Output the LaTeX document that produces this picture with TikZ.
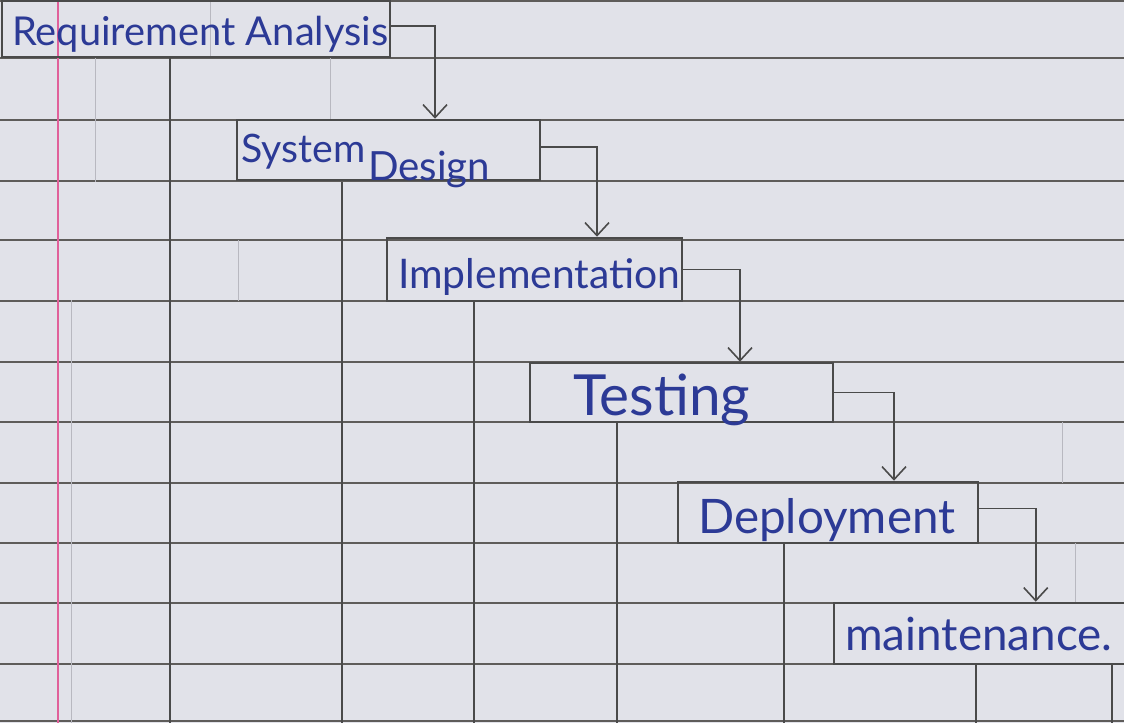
\documentclass[tikz,border=0pt]{standalone}
\usepackage{fontspec}
\setmainfont{Lato}
\usetikzlibrary{arrows.meta}
\definecolor{paper}{HTML}{E1E2E9}
\definecolor{rule}{HTML}{5E5C5A}
\definecolor{pencil}{HTML}{4A4A4A}
\definecolor{faint}{HTML}{B8B8C0}
\definecolor{ink}{HTML}{2C3A96}
\definecolor{margin}{HTML}{E0609A}
\tikzset{
  ruled/.style={rule, line width=2.1pt},
  vline/.style={pencil, line width=1.8pt},
  faintline/.style={faint, line width=1pt},
  stagebox/.style={draw=pencil, line width=2.5pt, inner sep=0pt, rectangle},
  hand/.style={ink, inner sep=0pt, anchor=base west},
  flow/.style={pencil, line width=1.8pt, -{Straight Barb[length=13pt,width=24pt,line width=1.6pt]}}
}
\begin{document}
\begin{tikzpicture}[x=1pt,y=-1pt]
\useasboundingbox (0,0) rectangle (1124,723);
\clip (0,0) rectangle (1124,723);
\fill[paper] (0,0) rectangle (1124,723);
% ruled paper lines
\foreach \y in {1,58,120,181,240,301,362,422,483,543,603,664,721}
  \draw[ruled] (0,\y) -- (1124,\y);
% faint pencil verticals
\draw[faintline] (95,58) -- (95,182);
\draw[faintline] (330,58) -- (330,120);
\draw[faintline] (210,0) -- (210,58);
\draw[faintline] (71,300) -- (71,723);
\draw[faintline] (238,240) -- (238,301);
\draw[faintline] (1062,422) -- (1062,483);
\draw[faintline] (1075,543) -- (1075,603);
% margin
\draw[margin, line width=1.2pt] (58,0) -- (58,723);
% pencil columns
\draw[vline] (170,58) -- (170,723);
\draw[vline] (342,182) -- (342,723);
\draw[vline] (474,301) -- (474,723);
\draw[vline] (617,422) -- (617,723);
\draw[vline] (784,543) -- (784,723);
\draw[vline] (976,664) -- (976,723);
\draw[vline] (1112,664) -- (1112,723);
% stage boxes
\node[stagebox, minimum width=388pt, minimum height=56pt] (b1) at (196,29) {};
\node[stagebox, minimum width=303pt, minimum height=60pt] (b2) at (388.5,150) {};
\node[stagebox, minimum width=295pt, minimum height=63pt] (b3) at (534.5,269.5) {};
\node[stagebox, minimum width=303pt, minimum height=59pt] (b4) at (681.5,392.5) {};
\node[stagebox, minimum width=300pt, minimum height=61pt] (b5) at (828,512.5) {};
\node[stagebox, minimum width=306pt, minimum height=61pt] (b6) at (987,633.5) {};
% handwritten labels
\node[hand] (t1) at (12,45) {\resizebox{376pt}{!}{Requirement Analysis}};
\node[hand] (t2a) at (241,162) {\resizebox{124pt}{!}{System}};
\node[hand] (t2b) at (368,180) {\resizebox{122pt}{!}{Design}};
\node[hand] (t3) at (398,288) {\resizebox{282pt}{!}{Implementation}};
\node[hand] (t4) at (573,415) {\resizebox{177pt}{!}{Testing}};
\node[hand] (t5) at (698,533) {\resizebox{257pt}{!}{Deployment}};
\node[hand] (t6) at (845,650) {\resizebox{267pt}{!}{maintenance.}};
% flow connectors
\draw[flow] ([yshift=3pt]b1.east) -| ([xshift=46.5pt]b2.north);
\draw[flow] ([yshift=3pt]b2.east) -| ([xshift=62.5pt]b3.north);
\draw[flow] (b3.east) -| ([xshift=58.5pt]b4.north);
\draw[flow] (b4.east) -| ([xshift=66pt]b5.north);
\draw[flow] ([yshift=4pt]b5.east) -| ([xshift=203pt]b6.north west);
\end{tikzpicture}
\end{document}
